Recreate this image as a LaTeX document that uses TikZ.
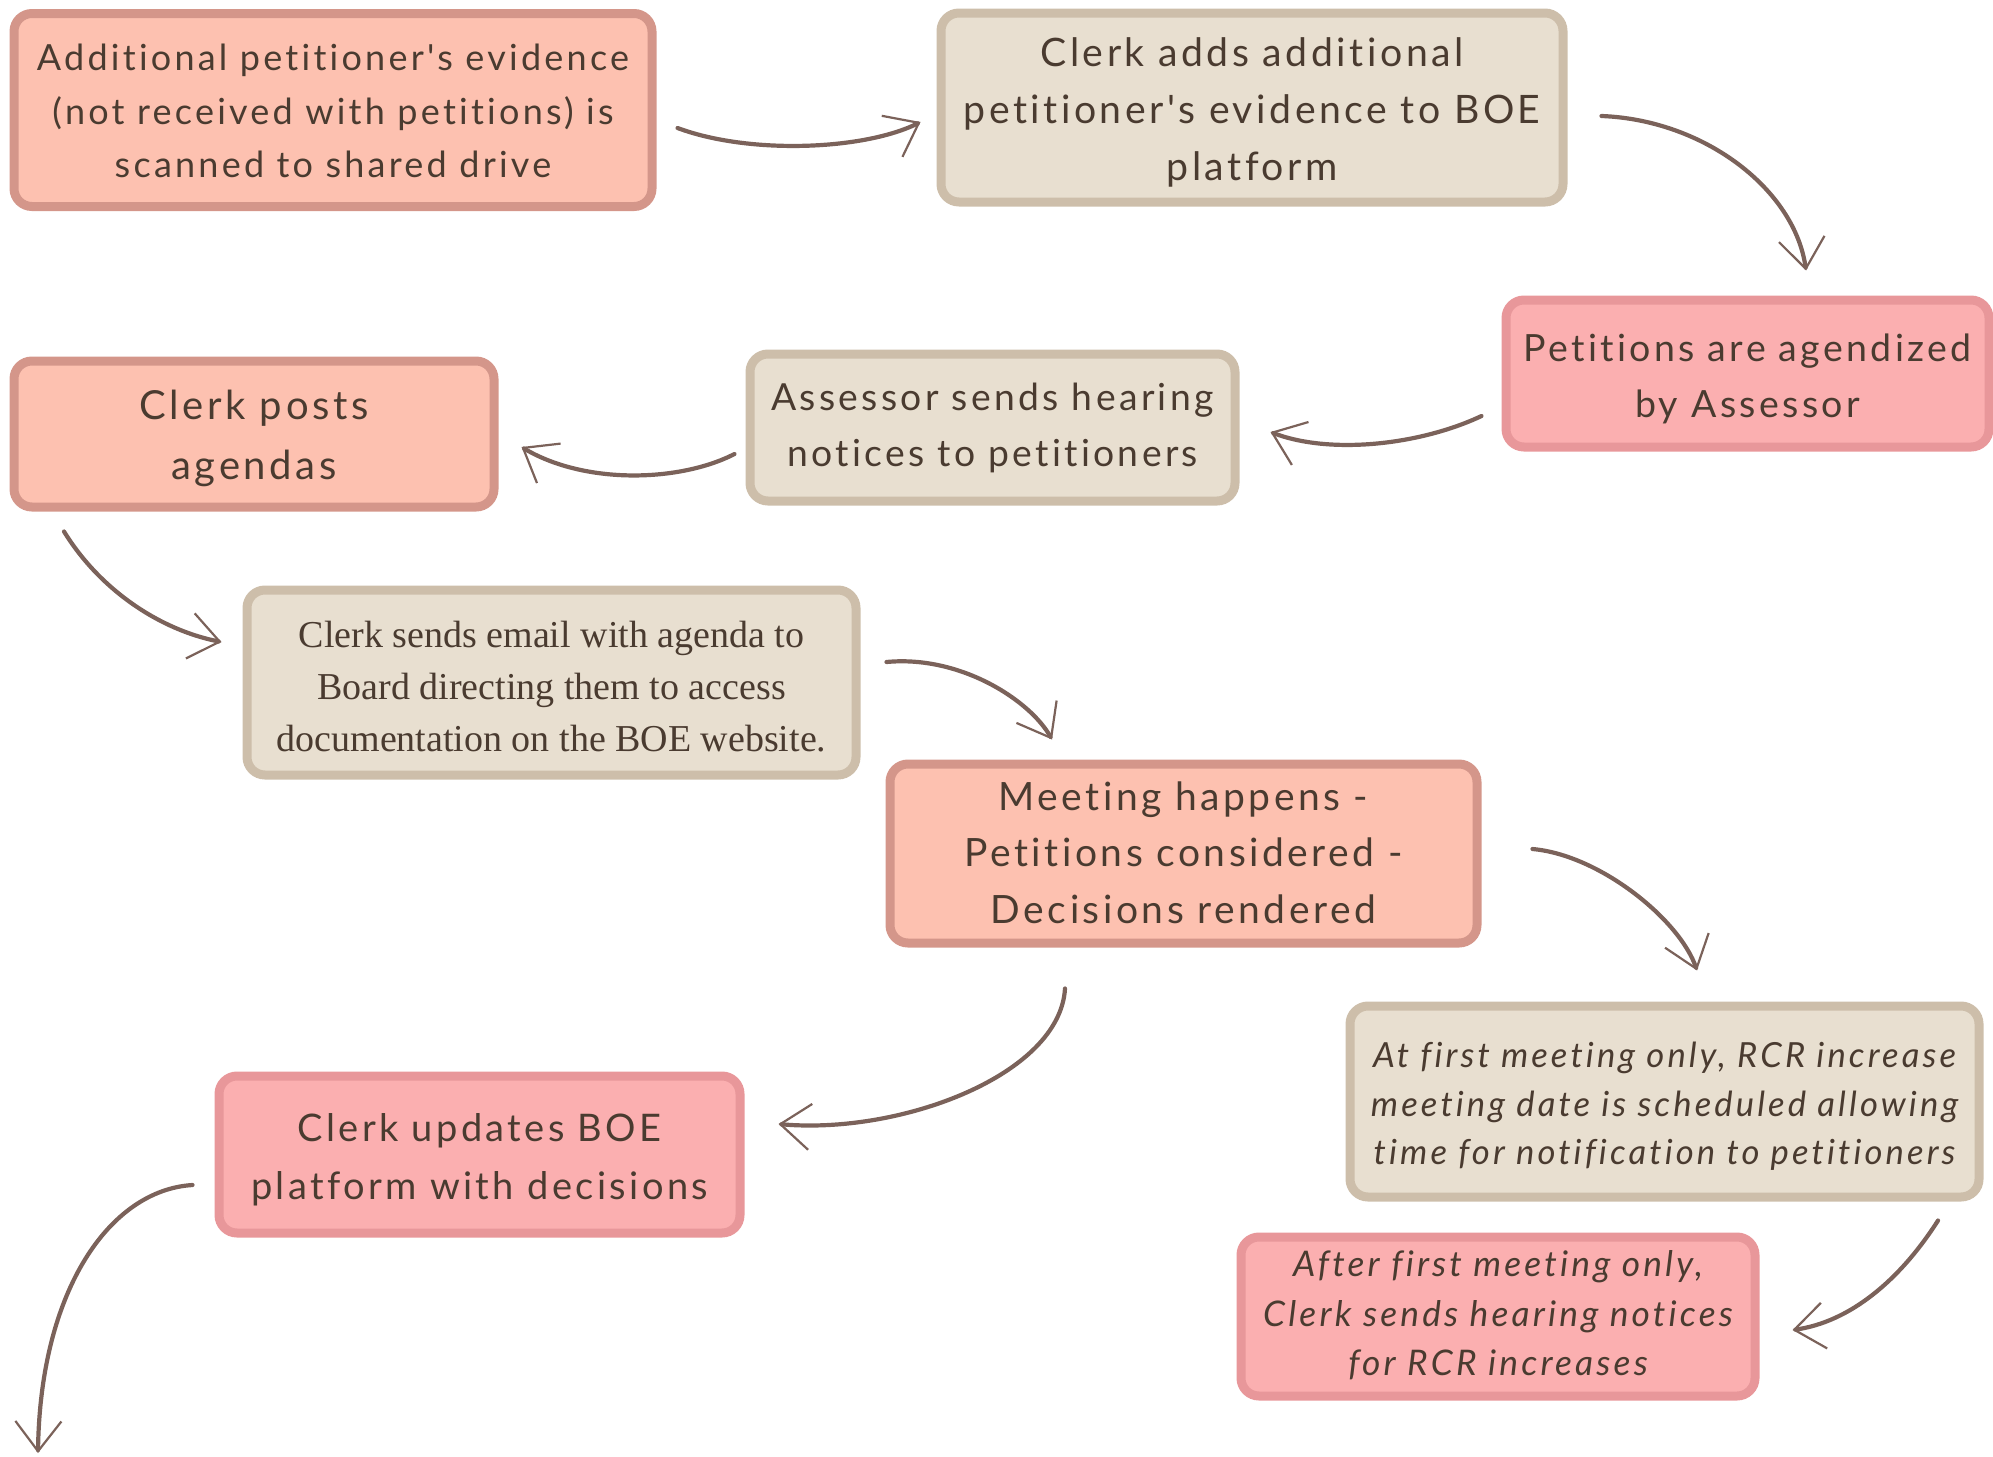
\documentclass[tikz,border=0pt]{standalone}
\usepackage{fontspec}
\setmainfont{Lato}[LetterSpace=9, Ligatures={TeXOff,CommonOff}]
\newfontfamily\serifface{Liberation Serif}
\usetikzlibrary{arrows.meta}
\definecolor{salmonF}{HTML}{FDC1B0}
\definecolor{salmonD}{HTML}{D4968A}
\definecolor{beigeF}{HTML}{E8DFD0}
\definecolor{beigeD}{HTML}{CDBEAA}
\definecolor{pinkF}{HTML}{FBAFB0}
\definecolor{pinkD}{HTML}{E8979A}
\definecolor{txt}{HTML}{4A3B30}
\definecolor{arrowc}{HTML}{7B625A}
\tikzset{
  fsz/.style 2 args={font=\fontsize{#1}{#2}\selectfont},
  fszit/.style 2 args={font=\fontsize{#1}{#2}\selectfont\itshape},
  fszserif/.style 2 args={font=\serifface\fontsize{#1}{#2}\selectfont},
  box/.style={rectangle, rounded corners=18pt, line width=9pt, inner sep=0pt},
  salmonbox/.style={box, fill=salmonF, draw=salmonD},
  beigebox/.style={box, fill=beigeF, draw=beigeD},
  pinkbox/.style={box, fill=pinkF, draw=pinkD},
  label/.style={align=center, text=txt, inner sep=0pt},
  conn/.style={draw=arrowc, line width=4.2pt, line cap=round,
    -{Straight Barb[length=30pt,width=46pt,line width=2.2pt]}},
}
\begin{document}
\begin{tikzpicture}[x=1pt,y=-1pt]
\useasboundingbox (0,0) rectangle (1993,1456);
% boxes
\node[salmonbox, minimum width=638pt, minimum height=193pt] (A) at (333,110) {};
\node[beigebox, minimum width=622pt, minimum height=189pt] (B) at (1252,107.5) {};
\node[pinkbox, minimum width=483pt, minimum height=147pt] (C) at (1747.5,373.5) {};
\node[beigebox, minimum width=485pt, minimum height=147pt] (D) at (992.5,427.5) {};
\node[salmonbox, minimum width=480pt, minimum height=146pt] (E) at (254,434) {};
\node[beigebox, minimum width=609pt, minimum height=185pt] (F) at (551.5,682.5) {};
\node[salmonbox, minimum width=587pt, minimum height=179pt] (G) at (1183.5,853.5) {};
\node[beigebox, minimum width=629pt, minimum height=191pt] (H) at (1664.5,1101.5) {};
\node[pinkbox, minimum width=514pt, minimum height=159pt] (I) at (1498,1316.5) {};
\node[pinkbox, minimum width=521pt, minimum height=157pt] (J) at (479.5,1154.5) {};
% texts
\node[label, fsz={36}{53.5}] (At) at ([yshift=-1pt]A.center)
  {Additional petitioner's evidence\\(not received with petitions) is\\scanned to shared drive};
\node[label, fsz={39.2}{57}] (Bt) at ([yshift=-5pt]B.center)
  {Clerk adds additional\\petitioner's evidence to BOE\\platform};
\node[label, fsz={37.5}{56}] (Ct) at ([yshift=-5pt]C.center)
  {Petitions are agendized\\by Assessor};
\node[label, fsz={37.3}{56}] (Dt) at (D.center)
  {Assessor sends hearing\\notices to petitioners};
\node[label, fsz={40}{60}] (Et) at ([yshift=-4pt]E.center)
  {Clerk posts\\agendas};
\node[label, fszserif={38}{52}] (Ft) at ([yshift=-4pt]F.center)
  {Clerk sends email with agenda to\\Board directing them to access\\documentation on the BOE website.};
\node[label, fsz={39}{56.5}] (Gt) at ([yshift=1pt]G.center)
  {Meeting happens -\\Petitions considered -\\Decisions rendered};
\node[label, fszit={34.6}{48.5}] (Ht) at ([yshift=-5pt]H.center)
  {At first meeting only, RCR increase\\meeting date is scheduled allowing\\time for notification to petitioners};
\node[label, fszit={35.3}{49.5}] (It) at ([yshift=1pt]I.center)
  {After first meeting only,\\Clerk sends hearing notices\\for RCR increases};
\node[label, fsz={38}{58}] (Jt) at ([yshift=-5pt]J.center)
  {Clerk updates BOE\\platform with decisions};
\coordinate (endpt) at (38,1453);
% connectors
\draw[conn] ([shift={(21,18)}]A.east) .. controls (750,155) and (865,150) .. ([shift={(-16,14.5)}]B.west);
\draw[conn] ([shift={(34,8.5)}]B.east) .. controls (1705,120) and (1795,190) .. ([shift={(58.5,-25)}]C.north);
\draw[conn] ([shift={(-20,42.5)}]C.west) .. controls (1420,445) and (1330,455) .. ([shift={(31,4.5)}]D.east);
\draw[conn] ([shift={(-11,26.5)}]D.west) .. controls (680,482) and (585,485) .. ([shift={(23,13)}]E.east);
\draw[conn] ([shift={(-190,20)}]E.south) .. controls (100,590) and (160,630) .. ([shift={(-21,-40.5)}]F.west);
\draw[conn] ([shift={(26,-20.5)}]F.east) .. controls (960,655) and (1030,700) .. ([shift={(-131.5,-20)}]G.north);
\draw[conn] ([shift={(51,-4.5)}]G.east) .. controls (1600,855) and (1680,920) .. ([shift={(32.5,-31)}]H.north);
\draw[conn] ([shift={(-118.5,41)}]G.south) .. controls (1060,1075) and (900,1135) .. ([shift={(34,-30.5)}]J.east);
\draw[conn] ([shift={(273.5,19)}]H.south) .. controls (1900,1280) and (1850,1322) .. ([shift={(33,13.5)}]I.east);
\draw[conn] ([shift={(-22,30.5)}]J.west) .. controls (110,1190) and (40,1290) .. (endpt);
\end{tikzpicture}
\end{document}
